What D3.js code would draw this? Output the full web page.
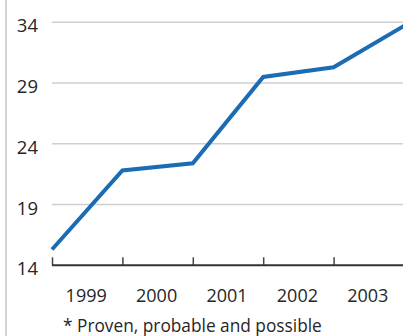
<!DOCTYPE html>
<html>
<head>
<meta charset="utf-8">
<script src="https://cdn.jsdelivr.net/npm/d3@7"></script>
<style>
  html, body { margin: 0; padding: 0; background: #fff; }
  svg { display: block; }
  text { font-family: "Open Sans", "Noto Sans", sans-serif; fill: #262626; }
</style>
</head>
<body>
<script>
// Year-end reserve figures (*proven, probable and possible)
const periods = [0, 1, 2, 3, 4, 5];
const reserves = [15.3, 21.8, 22.4, 29.5, 30.3, 33.7];
const yearLabels = ["1999", "2000", "2001", "2002", "2003"];
const yTicks = [14, 19, 24, 29, 34];
const footnote = "* Proven, probable and possible";

const W = 403, H = 336;
const svg = d3.select("body").append("svg").attr("width", W).attr("height", H);

const x = d3.scaleLinear().domain([0, 5]).range([52, 404]);
const y = d3.scaleLinear().domain([14, 34]).range([265.3, 22.3]);

// left rule
svg.append("line")
  .attr("x1", 6).attr("x2", 6).attr("y1", 0).attr("y2", H)
  .attr("stroke", "#c4c4c4").attr("stroke-width", 1.5);

// horizontal gridlines
svg.append("g").selectAll("line")
  .data(yTicks.filter(d => d !== 14))
  .join("line")
  .attr("x1", x(0)).attr("x2", W)
  .attr("y1", d => y(d)).attr("y2", d => y(d))
  .attr("stroke", "#cfcfcf").attr("stroke-width", 1.5);

// y labels
svg.append("g").selectAll("text")
  .data(yTicks)
  .join("text")
  .attr("x", 38).attr("y", d => y(d) + 10)
  .attr("text-anchor", "end")
  .attr("font-size", 18.5)
  .text(d => d);

// x axis line with upward ticks
const xAxis = d3.axisTop(x).tickValues([0, 1, 2, 3, 4]).tickSize(8).tickFormat("");
const gx = svg.append("g").attr("transform", `translate(0,${y(14)})`).call(xAxis);
gx.select(".domain").remove();
gx.selectAll(".tick line").attr("stroke", "#444").attr("stroke-width", 1.5);
svg.append("line")
  .attr("x1", x(0)).attr("x2", W)
  .attr("y1", y(14)).attr("y2", y(14))
  .attr("stroke", "#333").attr("stroke-width", 2);

// year labels centred in each period
svg.append("g").selectAll("text")
  .data(yearLabels)
  .join("text")
  .attr("x", (d, i) => x(i + 0.5) - 1)
  .attr("y", 302)
  .attr("text-anchor", "middle")
  .attr("font-size", 18)
  .text(d => d);

// reserve line
const line = d3.line().x((d, i) => x(periods[i])).y(d => y(d));
svg.append("path")
  .datum(reserves)
  .attr("d", line)
  .attr("fill", "none")
  .attr("stroke", "#1b6cb3")
  .attr("stroke-width", 4)
  .attr("stroke-linejoin", "miter");

// footnote
svg.append("text")
  .attr("x", 63).attr("y", 332)
  .attr("font-size", 17.3)
  .text(footnote);
</script>
</body>
</html>
